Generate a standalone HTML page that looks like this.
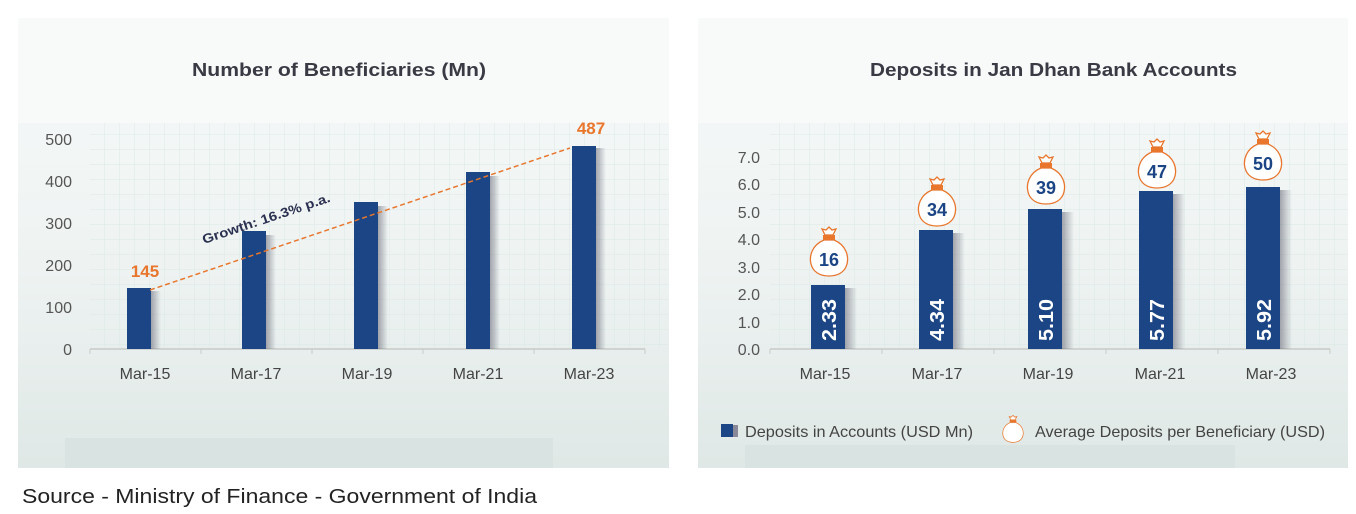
<!DOCTYPE html>
<html><head><meta charset="utf-8"><style>
html,body{margin:0;padding:0;background:#fff;width:1356px;height:514px;overflow:hidden}
svg{display:block;font-family:"Liberation Sans",sans-serif}
</style></head><body>
<svg width="1356" height="514" viewBox="0 0 1356 514">
<defs>
<pattern id="g" width="15" height="15" patternUnits="userSpaceOnUse">
<path d="M15 0V15M0 15H15" stroke="#d6e6e2" stroke-width="1" fill="none"/>
</pattern>
<linearGradient id="bg" x1="0" y1="0" x2="0" y2="1">
<stop offset="0" stop-color="#f7f9f9"/><stop offset="0.55" stop-color="#eef3f2"/><stop offset="1" stop-color="#dfe8e6"/>
</linearGradient>
<linearGradient id="sh" x1="0" y1="0" x2="1" y2="0">
<stop offset="0" stop-color="#556" stop-opacity="0.5"/><stop offset="1" stop-color="#556" stop-opacity="0"/>
</linearGradient>
<g id="bag">
<path d="M-7,-30 L-4,-24 L4,-24 L7,-30 L3,-29 L0,-32 L-3,-29 Z" fill="#fff" stroke="#e8762d" stroke-width="1.3"/>
<rect x="-6" y="-24" width="12" height="5" fill="#e8762d"/>
<path d="M-5,-19 C-17,-14 -20,-3 -18,5 C-16,13 -9,17 0,17 C9,17 16,13 18,5 C20,-3 17,-14 5,-19 Z" fill="#fff" stroke="#e8762d" stroke-width="1.3"/>
</g>
</defs>
<rect x="18" y="18" width="651" height="450" fill="url(#bg)"/>
<rect x="18" y="18" width="651" height="105" fill="#f8fafa"/>
<rect x="90" y="123" width="579" height="225" fill="url(#g)" opacity="0.8"/>
<rect x="65" y="438" width="488" height="30" fill="#d9e4e2"/>
<rect x="698" y="18" width="650" height="450" fill="url(#bg)"/>
<rect x="698" y="18" width="650" height="105" fill="#f8fafa"/>
<rect x="770" y="123" width="578" height="225" fill="url(#g)" opacity="0.8"/>
<rect x="745" y="445" width="490" height="23" fill="#d9e4e2"/>

<text x="192" y="76" textLength="294" lengthAdjust="spacingAndGlyphs" font-size="18" font-weight="bold" fill="#3a3a44">Number of Beneficiaries (Mn)</text>
<g font-size="16" fill="#555" text-anchor="end">
<text x="72" y="145">500</text><text x="72" y="187">400</text><text x="72" y="229">300</text>
<text x="72" y="271">200</text><text x="72" y="313">100</text><text x="72" y="355">0</text>
</g>
<line x1="90" y1="349" x2="645" y2="349" stroke="#c8ccc8" stroke-width="1.5"/>
<g stroke="#c8ccc8"><line x1="90" y1="349" x2="90" y2="354"/><line x1="201" y1="349" x2="201" y2="354"/><line x1="312" y1="349" x2="312" y2="354"/><line x1="423" y1="349" x2="423" y2="354"/><line x1="534" y1="349" x2="534" y2="354"/><line x1="645" y1="349" x2="645" y2="354"/></g>
<g fill="url(#sh)">
<rect x="151" y="291" width="10" height="58"/><rect x="266" y="235" width="10" height="114"/><rect x="378" y="206" width="10" height="143"/><rect x="490" y="176" width="10" height="173"/><rect x="596" y="148" width="10" height="201"/>
</g>
<g fill="#1b4584">
<rect x="127" y="288" width="24" height="61"/><rect x="242" y="231" width="24" height="118"/><rect x="354" y="202" width="24" height="147"/><rect x="466" y="172" width="24" height="177"/><rect x="572" y="146" width="24" height="203"/>
</g>
<line x1="150" y1="290" x2="570" y2="148" stroke="#e8762d" stroke-width="1.5" stroke-dasharray="5,3"/>
<text x="145" y="277" text-anchor="middle" font-size="17" font-weight="bold" fill="#e8762d">145</text>
<text x="591" y="134" text-anchor="middle" font-size="17" font-weight="bold" fill="#e8762d">487</text>
<text x="0" y="0" font-size="13" font-weight="bold" fill="#2b3050" textLength="134" lengthAdjust="spacingAndGlyphs" transform="translate(204,244) rotate(-18.5)">Growth: 16.3% p.a.</text>
<g font-size="16" fill="#444" text-anchor="middle">
<text x="145" y="379">Mar-15</text><text x="256" y="379">Mar-17</text><text x="367" y="379">Mar-19</text><text x="478" y="379">Mar-21</text><text x="589" y="379">Mar-23</text>
</g>

<text x="870" y="76" textLength="367" lengthAdjust="spacingAndGlyphs" font-size="18" font-weight="bold" fill="#3a3a44">Deposits in Jan Dhan Bank Accounts</text>
<g font-size="16" fill="#555" text-anchor="end">
<text x="760" y="163">7.0</text><text x="760" y="190">6.0</text><text x="760" y="218">5.0</text><text x="760" y="245">4.0</text>
<text x="760" y="273">3.0</text><text x="760" y="300">2.0</text><text x="760" y="328">1.0</text><text x="760" y="355">0.0</text>
</g>
<line x1="770" y1="349" x2="1330" y2="349" stroke="#c8ccc8" stroke-width="1.5"/>
<g stroke="#c8ccc8"><line x1="770" y1="349" x2="770" y2="354"/><line x1="882" y1="349" x2="882" y2="354"/><line x1="994" y1="349" x2="994" y2="354"/><line x1="1106" y1="349" x2="1106" y2="354"/><line x1="1218" y1="349" x2="1218" y2="354"/><line x1="1330" y1="349" x2="1330" y2="354"/></g>
<g fill="url(#sh)">
<rect x="845" y="288" width="12" height="61"/><rect x="953" y="233" width="12" height="116"/><rect x="1062" y="212" width="12" height="137"/><rect x="1173" y="194" width="12" height="155"/><rect x="1280" y="190" width="12" height="159"/>
</g>
<g fill="#1b4584">
<rect x="811" y="285" width="34" height="64"/><rect x="919" y="230" width="34" height="119"/><rect x="1028" y="209" width="34" height="140"/><rect x="1139" y="191" width="34" height="158"/><rect x="1246" y="187" width="34" height="162"/>
</g>
<g font-size="20" font-weight="bold" fill="#fff">
<text transform="translate(836,341) rotate(-90)" textLength="42" lengthAdjust="spacingAndGlyphs">2.33</text>
<text transform="translate(944,341) rotate(-90)" textLength="42" lengthAdjust="spacingAndGlyphs">4.34</text>
<text transform="translate(1053,341) rotate(-90)" textLength="42" lengthAdjust="spacingAndGlyphs">5.10</text>
<text transform="translate(1164,341) rotate(-90)" textLength="42" lengthAdjust="spacingAndGlyphs">5.77</text>
<text transform="translate(1271,341) rotate(-90)" textLength="42" lengthAdjust="spacingAndGlyphs">5.92</text>
</g>
<use href="#bag" x="829" y="259"/><use href="#bag" x="937" y="209"/><use href="#bag" x="1046" y="187"/><use href="#bag" x="1157" y="171"/><use href="#bag" x="1263" y="163"/>
<g font-size="18" font-weight="bold" fill="#1b4584" text-anchor="middle">
<text x="829" y="266">16</text><text x="937" y="216">34</text><text x="1046" y="194">39</text><text x="1157" y="178">47</text><text x="1263" y="170">50</text>
</g>
<g font-size="16" fill="#444" text-anchor="middle">
<text x="825" y="379">Mar-15</text><text x="937" y="379">Mar-17</text><text x="1048" y="379">Mar-19</text><text x="1160" y="379">Mar-21</text><text x="1271" y="379">Mar-23</text>
</g>
<rect x="721" y="424" width="12" height="13" fill="#1b4584"/><rect x="733" y="425" width="5" height="12" fill="#889"/>
<text x="745" y="437" font-size="16" fill="#444" textLength="228" lengthAdjust="spacingAndGlyphs">Deposits in Accounts (USD Mn)</text>
<g transform="translate(1013,433) scale(0.55)"><use href="#bag"/></g>
<text x="1035" y="437" font-size="16" fill="#444" textLength="290" lengthAdjust="spacingAndGlyphs">Average Deposits per Beneficiary (USD)</text>

<text x="22" y="503" font-size="20" fill="#222" textLength="515" lengthAdjust="spacingAndGlyphs">Source - Ministry of Finance - Government of India</text>
</svg>
</body></html>
